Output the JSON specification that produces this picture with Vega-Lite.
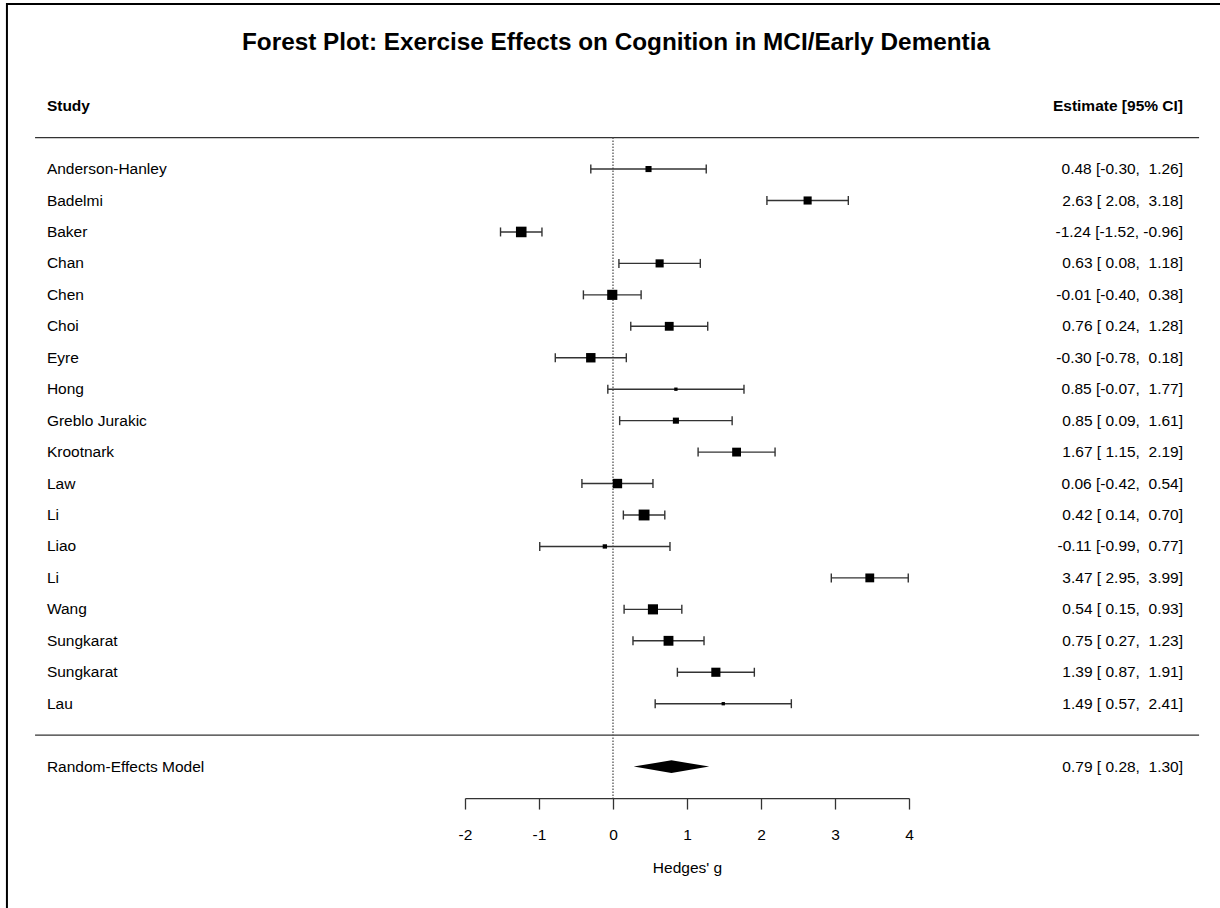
{
  "$schema": "https://vega.github.io/schema/vega-lite/v6.json",
  "width": 444,
  "height": 660.45,
  "autosize": {"type": "none"},
  "padding": {"left": 465, "top": 137.6, "right": 311, "bottom": 109.95},
  "background": "white",
  "config": {"view": {"stroke": null}, "font": "Liberation Sans"},
  "resolve": {"axis": {"x": "independent", "y": "independent"}},
  "datasets": {
    "studies": [
      {"study": "Anderson-Hanley", "row": 1, "est": 0.48, "lb": -0.30, "ub": 1.26, "weight": 4.2, "ci": "0.48 [-0.30, \u00a01.26]"},
      {"study": "Badelmi", "row": 2, "est": 2.63, "lb": 2.08, "ub": 3.18, "weight": 5.6, "ci": "2.63 [\u00a02.08, \u00a03.18]"},
      {"study": "Baker", "row": 3, "est": -1.24, "lb": -1.52, "ub": -0.96, "weight": 7.3, "ci": "-1.24 [-1.52, -0.96]"},
      {"study": "Chan", "row": 4, "est": 0.63, "lb": 0.08, "ub": 1.18, "weight": 5.6, "ci": "0.63 [\u00a00.08, \u00a01.18]"},
      {"study": "Chen", "row": 5, "est": -0.01, "lb": -0.40, "ub": 0.38, "weight": 7.0, "ci": "-0.01 [-0.40, \u00a00.38]"},
      {"study": "Choi", "row": 6, "est": 0.76, "lb": 0.24, "ub": 1.28, "weight": 6.1, "ci": "0.76 [\u00a00.24, \u00a01.28]"},
      {"study": "Eyre", "row": 7, "est": -0.30, "lb": -0.78, "ub": 0.18, "weight": 6.5, "ci": "-0.30 [-0.78, \u00a00.18]"},
      {"study": "Hong", "row": 8, "est": 0.85, "lb": -0.07, "ub": 1.77, "weight": 2.3, "ci": "0.85 [-0.07, \u00a01.77]"},
      {"study": "Greblo Jurakic", "row": 9, "est": 0.85, "lb": 0.09, "ub": 1.61, "weight": 4.2, "ci": "0.85 [\u00a00.09, \u00a01.61]"},
      {"study": "Krootnark", "row": 10, "est": 1.67, "lb": 1.15, "ub": 2.19, "weight": 6.1, "ci": "1.67 [\u00a01.15, \u00a02.19]"},
      {"study": "Law", "row": 11, "est": 0.06, "lb": -0.42, "ub": 0.54, "weight": 6.5, "ci": "0.06 [-0.42, \u00a00.54]"},
      {"study": "Li", "row": 12, "est": 0.42, "lb": 0.14, "ub": 0.70, "weight": 7.5, "ci": "0.42 [\u00a00.14, \u00a00.70]"},
      {"study": "Liao", "row": 13, "est": -0.11, "lb": -0.99, "ub": 0.77, "weight": 3.0, "ci": "-0.11 [-0.99, \u00a00.77]"},
      {"study": "Li", "row": 14, "est": 3.47, "lb": 2.95, "ub": 3.99, "weight": 6.1, "ci": "3.47 [\u00a02.95, \u00a03.99]"},
      {"study": "Wang", "row": 15, "est": 0.54, "lb": 0.15, "ub": 0.93, "weight": 7.0, "ci": "0.54 [\u00a00.15, \u00a00.93]"},
      {"study": "Sungkarat", "row": 16, "est": 0.75, "lb": 0.27, "ub": 1.23, "weight": 6.8, "ci": "0.75 [\u00a00.27, \u00a01.23]"},
      {"study": "Sungkarat", "row": 17, "est": 1.39, "lb": 0.87, "ub": 1.91, "weight": 6.3, "ci": "1.39 [\u00a00.87, \u00a01.91]"},
      {"study": "Lau", "row": 18, "est": 1.49, "lb": 0.57, "ub": 2.41, "weight": 2.3, "ci": "1.49 [\u00a00.57, \u00a02.41]"}
    ],
    "pooled": [
      {"study": "Random-Effects Model", "row": 20, "est": 0.79, "lb": 0.28, "ub": 1.30, "ci": "0.79 [\u00a00.28, \u00a01.30]"}
    ],
    "diamond": [
      {"g": 0.28, "lo": 20, "hi": 20},
      {"g": 0.79, "lo": 19.8, "hi": 20.2},
      {"g": 1.30, "lo": 20, "hi": 20}
    ],
    "one": [{"k": 1}]
  },
  "layer": [
    {
      "data": {"name": "one"},
      "mark": {"type": "rect", "fillOpacity": 0, "stroke": "#000000", "strokeWidth": 2},
      "encoding": {
        "x": {"datum": -8.19, "type": "quantitative", "scale": {"domain": [-2, 4], "nice": false, "zero": false}, "axis": null},
        "x2": {"datum": 9},
        "y": {"datum": -4.25, "type": "quantitative", "scale": {"domain": [0, 21], "nice": false, "zero": false, "reverse": true}, "axis": null},
        "y2": {"datum": 40}
      }
    },
    {
      "data": {"name": "one"},
      "mark": {"type": "text", "text": "Forest Plot: Exercise Effects on Cognition in MCI/Early Dementia", "fontSize": 24.3, "fontWeight": "bold", "align": "center", "baseline": "middle", "color": "#000000"},
      "encoding": {
        "x": {"datum": 0.04, "type": "quantitative", "scale": {"domain": [-2, 4], "nice": false, "zero": false}, "axis": null},
        "y": {"datum": -3, "type": "quantitative", "scale": {"domain": [0, 21], "nice": false, "zero": false, "reverse": true}, "axis": null}
      }
    },
    {
      "data": {"name": "one"},
      "mark": {"type": "text", "text": "Study", "fontSize": 15.5, "fontWeight": "bold", "align": "left", "baseline": "middle", "color": "#000000"},
      "encoding": {
        "x": {"datum": -7.65, "type": "quantitative", "scale": {"domain": [-2, 4], "nice": false, "zero": false}, "axis": null},
        "y": {"datum": -1, "type": "quantitative", "scale": {"domain": [0, 21], "nice": false, "zero": false, "reverse": true}, "axis": null}
      }
    },
    {
      "data": {"name": "one"},
      "mark": {"type": "text", "text": "Estimate [95% CI]", "fontSize": 15.5, "fontWeight": "bold", "align": "right", "baseline": "middle", "color": "#000000"},
      "encoding": {
        "x": {"datum": 7.703, "type": "quantitative", "scale": {"domain": [-2, 4], "nice": false, "zero": false}, "axis": null},
        "y": {"datum": -1, "type": "quantitative", "scale": {"domain": [0, 21], "nice": false, "zero": false, "reverse": true}, "axis": null}
      }
    },
    {
      "data": {"name": "one"},
      "mark": {"type": "rule", "stroke": "#333333", "strokeWidth": 1.3},
      "encoding": {
        "x": {"datum": -7.81, "type": "quantitative", "scale": {"domain": [-2, 4], "nice": false, "zero": false}, "axis": null},
        "x2": {"datum": 7.92},
        "y": {"datum": 0, "type": "quantitative", "scale": {"domain": [0, 21], "nice": false, "zero": false, "reverse": true}, "axis": null}
      }
    },
    {
      "data": {"name": "one"},
      "mark": {"type": "rule", "stroke": "#333333", "strokeWidth": 1.3},
      "encoding": {
        "x": {"datum": -7.81, "type": "quantitative", "scale": {"domain": [-2, 4], "nice": false, "zero": false}, "axis": null},
        "x2": {"datum": 7.92},
        "y": {"datum": 19, "type": "quantitative", "scale": {"domain": [0, 21], "nice": false, "zero": false, "reverse": true}, "axis": null}
      }
    },
    {
      "data": {"name": "one"},
      "mark": {"type": "rule", "stroke": "#555555", "strokeWidth": 1.3, "strokeDash": [1.5, 1.5]},
      "encoding": {
        "x": {"datum": 0, "type": "quantitative", "scale": {"domain": [-2, 4], "nice": false, "zero": false}, "axis": null},
        "y": {"datum": 0, "type": "quantitative", "scale": {"domain": [0, 21], "nice": false, "zero": false, "reverse": true}, "axis": null},
        "y2": {"datum": 21}
      }
    },
    {
      "data": {"name": "studies"},
      "mark": {"type": "text", "fontSize": 15.5, "align": "left", "baseline": "middle", "color": "#000000"},
      "encoding": {
        "x": {"datum": -7.65, "type": "quantitative", "scale": {"domain": [-2, 4], "nice": false, "zero": false}, "axis": null},
        "y": {"field": "row", "type": "quantitative", "scale": {"domain": [0, 21], "nice": false, "zero": false, "reverse": true}, "axis": null},
        "text": {"field": "study"}
      }
    },
    {
      "data": {"name": "studies"},
      "mark": {"type": "text", "fontSize": 15.5, "align": "right", "baseline": "middle", "color": "#000000"},
      "encoding": {
        "x": {"datum": 7.703, "type": "quantitative", "scale": {"domain": [-2, 4], "nice": false, "zero": false}, "axis": null},
        "y": {"field": "row", "type": "quantitative", "scale": {"domain": [0, 21], "nice": false, "zero": false, "reverse": true}, "axis": null},
        "text": {"field": "ci"}
      }
    },
    {
      "data": {"name": "pooled"},
      "mark": {"type": "text", "fontSize": 15.5, "align": "left", "baseline": "middle", "color": "#000000"},
      "encoding": {
        "x": {"datum": -7.65, "type": "quantitative", "scale": {"domain": [-2, 4], "nice": false, "zero": false}, "axis": null},
        "y": {"field": "row", "type": "quantitative", "scale": {"domain": [0, 21], "nice": false, "zero": false, "reverse": true}, "axis": null},
        "text": {"field": "study"}
      }
    },
    {
      "data": {"name": "pooled"},
      "mark": {"type": "text", "fontSize": 15.5, "align": "right", "baseline": "middle", "color": "#000000"},
      "encoding": {
        "x": {"datum": 7.703, "type": "quantitative", "scale": {"domain": [-2, 4], "nice": false, "zero": false}, "axis": null},
        "y": {"field": "row", "type": "quantitative", "scale": {"domain": [0, 21], "nice": false, "zero": false, "reverse": true}, "axis": null},
        "text": {"field": "ci"}
      }
    },
    {
      "data": {"name": "studies"},
      "mark": {"type": "rule", "stroke": "#333333", "strokeWidth": 1.4},
      "encoding": {
        "x": {"field": "lb", "type": "quantitative", "scale": {"domain": [-2, 4], "nice": false, "zero": false},
          "axis": {"title": "Hedges' g", "values": [-2, -1, 0, 1, 2, 3, 4], "labelExpr": "toString(datum.value)", "grid": false, "domainColor": "#333333", "domainWidth": 1.3, "tickColor": "#333333", "tickWidth": 1.3, "tickSize": 11, "labelFontSize": 15.5, "labelColor": "#000000", "labelPadding": 18, "labelFont": "Liberation Sans", "titleFont": "Liberation Sans", "titleFontSize": 15.5, "titleFontWeight": "normal", "titleColor": "#000000", "titlePadding": 18, "labelFlush": false}},
        "x2": {"field": "ub"},
        "y": {"field": "row", "type": "quantitative", "scale": {"domain": [0, 21], "nice": false, "zero": false, "reverse": true}, "axis": null}
      }
    },
    {
      "data": {"name": "studies"},
      "mark": {"type": "tick", "orient": "vertical", "size": 9, "thickness": 1.4, "color": "#333333", "opacity": 1},
      "encoding": {
        "x": {"field": "lb", "type": "quantitative", "scale": {"domain": [-2, 4], "nice": false, "zero": false}, "axis": null},
        "y": {"field": "row", "type": "quantitative", "scale": {"domain": [0, 21], "nice": false, "zero": false, "reverse": true}, "axis": null}
      }
    },
    {
      "data": {"name": "studies"},
      "mark": {"type": "tick", "orient": "vertical", "size": 9, "thickness": 1.4, "color": "#333333", "opacity": 1},
      "encoding": {
        "x": {"field": "ub", "type": "quantitative", "scale": {"domain": [-2, 4], "nice": false, "zero": false}, "axis": null},
        "y": {"field": "row", "type": "quantitative", "scale": {"domain": [0, 21], "nice": false, "zero": false, "reverse": true}, "axis": null}
      }
    },
    {
      "data": {"name": "studies"},
      "mark": {"type": "point", "shape": "square", "filled": true, "color": "#000000", "opacity": 1, "strokeWidth": 0},
      "encoding": {
        "x": {"field": "est", "type": "quantitative", "scale": {"domain": [-2, 4], "nice": false, "zero": false}, "axis": null},
        "y": {"field": "row", "type": "quantitative", "scale": {"domain": [0, 21], "nice": false, "zero": false, "reverse": true}, "axis": null},
        "size": {"field": "weight", "type": "quantitative", "scale": {"type": "pow", "exponent": 2, "domain": [0, 7.5], "range": [0, 118]}, "legend": null}
      }
    },
    {
      "data": {"name": "diamond"},
      "mark": {"type": "area", "color": "#000000", "opacity": 1},
      "encoding": {
        "x": {"field": "g", "type": "quantitative", "scale": {"domain": [-2, 4], "nice": false, "zero": false}, "axis": null},
        "y": {"field": "lo", "type": "quantitative", "scale": {"domain": [0, 21], "nice": false, "zero": false, "reverse": true}, "axis": null},
        "y2": {"field": "hi"}
      }
    }
  ]
}
